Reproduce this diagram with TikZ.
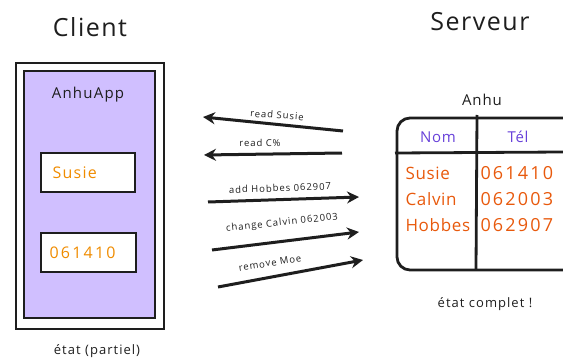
\documentclass[tikz,border=0pt]{standalone}
\usepackage{fontspec}
\setmainfont{Open Sans}
\usetikzlibrary{arrows.meta}
\definecolor{lav}{HTML}{D0BFFF}
\definecolor{corange}{HTML}{F08C00}
\definecolor{sorange}{HTML}{E8590C}
\definecolor{vpurple}{HTML}{6741D9}
\definecolor{ink}{HTML}{1E1E1E}
\newcommand{\lsp}[1]{\addfontfeature{LetterSpace=#1}}
\tikzset{
  frame/.style={draw=ink, line width=2.8pt},
  title/.style={font=\fontsize{25}{28}\selectfont\lsp{6}, text=ink},
  fieldtxt/.style={font=\fontsize{16}{18}\selectfont\lsp{8}, text=corange, anchor=west},
  celltxt/.style={font=\fontsize{17}{19}\selectfont\lsp{4}, text=sorange, anchor=west},
  numtxt/.style={font=\fontsize{18}{20}\selectfont\lsp{12}, text=sorange, anchor=west},
  headtxt/.style={font=\fontsize{15}{17}\selectfont\lsp{4}, text=vpurple},
  msg/.style={font=\fontsize{9.5}{11}\selectfont\lsp{10}, text=ink},
  note/.style={font=\fontsize{13}{15}\selectfont\lsp{8}, text=ink},
  flow/.style={draw=ink, line width=3pt, -{Stealth[length=12pt,width=12pt]}},
}
\begin{document}
\begin{tikzpicture}[x=1pt,y=-1pt]
\useasboundingbox (0,0) rectangle (563,361);
% Client
\node[title] (client) at (90,27) {Client};
\draw[frame] (16,63) rectangle (164,329);
\draw[frame, fill=lav] (24,71) rectangle (155,318);
\node[font=\fontsize{15}{17}\selectfont\lsp{8}, text=ink] (app) at (88,95) {AnhuApp};
\draw[frame, fill=white] (41,153) rectangle (135,192);
\node[fieldtxt] (fs) at (49,172.5) {Susie};
\draw[frame, fill=white] (41,233) rectangle (136,272);
\node[fieldtxt, font=\fontsize{16}{18}\selectfont\lsp{14}] (fn) at (46,252.5) {061410};
\node[note] (etatp) at (97,351) {état (partiel)};

% Server
\node[title] (serveur) at (480,22) {Serveur};
\node[font=\fontsize{15}{17}\selectfont\lsp{6}, text=ink] (anhu) at (482,100) {Anhu};
\draw[frame, rounded corners=13pt] (397,118) rectangle (600,270);
\coordinate (vt) at (477,115);
\coordinate (vb) at (476,270);
\draw[frame] (vt) -- (vb);
\coordinate (hl) at (395,153);
\coordinate (hr) at (563,152);
\draw[frame] (hl) -- (hr);
\node[headtxt] (nom) at (438,137) {Nom};
\node[headtxt] (tel) at (518,137) {Tél};
\node[celltxt] (r1a) at (402,173) {Susie};
\node[celltxt] (r2a) at (402,199) {Calvin};
\node[celltxt] (r3a) at (402,225) {Hobbes};
\node[numtxt] (r1b) at (477,173) {061410};
\node[numtxt] (r2b) at (477,199) {062003};
\node[numtxt] (r3b) at (477,225) {062907};
\node[note] (etatc) at (485,304) {état complet !};

% Messages
\coordinate (a1s) at (343,131); \coordinate (a1e) at (203,117);
\coordinate (a2s) at (342,153); \coordinate (a2e) at (204,155);
\coordinate (a3s) at (208,202); \coordinate (a3e) at (359,197);
\coordinate (a4s) at (212,250); \coordinate (a4e) at (359,232);
\coordinate (a5s) at (218,287); \coordinate (a5e) at (363,260);
\draw[flow] (a1s) -- (a1e);
\draw[flow] (a2s) -- (a2e);
\draw[flow] (a3s) -- (a3e);
\draw[flow] (a4s) -- (a4e);
\draw[flow] (a5s) -- (a5e);
\node[msg, rotate=-4] (m1) at (277,115) {read Susie};
\node[msg] (m2) at (260,143) {read C\%};
\node[msg, rotate=2] (m3) at (280,188) {add Hobbes 062907};
\node[msg, rotate=6] (m4) at (282,223) {change Calvin 062003};
\node[msg, rotate=9] (m5) at (270,263) {remove Moe};
\end{tikzpicture}
\end{document}
